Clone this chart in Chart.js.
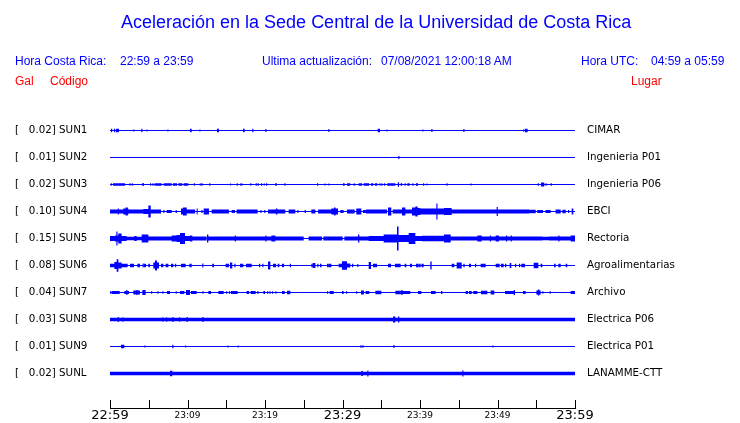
<!DOCTYPE html>
<html>
<head>
<meta charset="utf-8">
<script src="https://cdn.jsdelivr.net/npm/chart.js@4/dist/chart.umd.min.js"></script>
<style>
    body { margin: 0; background: #fff; }
    #wrap { position: relative; width: 740px; height: 423px; overflow: hidden; }
    #chartCanvas { position: absolute; left: 0; top: 0; }
    .txt { position: absolute; white-space: pre; font-family: 'Liberation Sans', Arial, sans-serif; line-height: 1; }
    .blue { color: #0000ff; }
    .red { color: #ff0000; }
    .title { font-size: 18px; }
    .sub { font-size: 12px; }
</style>
</head>
<body>
<div id="wrap">
    <canvas id="chartCanvas" width="740" height="423"></canvas>
    <div class="txt blue title" style="left:121px;top:13px">Aceleración en la Sede Central de la Universidad de Costa Rica</div>
    <div class="txt blue sub" style="left:15px;top:55px">Hora Costa Rica:</div>
    <div class="txt blue sub" style="left:120px;top:55px">22:59 a 23:59</div>
    <div class="txt blue sub" style="left:262px;top:55px">Ultima actualización:</div>
    <div class="txt blue sub" style="left:381px;top:55px">07/08/2021 12:00:18 AM</div>
    <div class="txt blue sub" style="left:581px;top:55px">Hora UTC:</div>
    <div class="txt blue sub" style="left:651px;top:55px">04:59 a 05:59</div>
    <div class="txt red sub" style="left:15px;top:75px">Gal</div>
    <div class="txt red sub" style="left:50px;top:75px">Código</div>
    <div class="txt red sub" style="left:631px;top:75px">Lugar</div>
</div>
<script>
// Stations (top to bottom)
const CODES = ['SUN1', 'SUN2', 'SUN3', 'SUN4', 'SUN5', 'SUN6', 'SUN7', 'SUN8', 'SUN9', 'SUNL'];
const GAL = ['0.02', '0.01', '0.02', '0.10', '0.15', '0.08', '0.04', '0.03', '0.01', '0.02'];
const PLACES = ['CIMAR', 'Ingenieria P01', 'Ingenieria P06', 'EBCI', 'Rectoria',
    'Agroalimentarias', 'Archivo', 'Electrica P06', 'Electrica P01', 'LANAMME-CTT'];

// Time axis: minutes after 22:59, labels every 10 minutes
const TICK_LABELS = ['22:59', '23:09', '23:19', '23:29', '23:39', '23:49', '23:59'];
const BIG_TICKS = [0, 30, 60];

// Background noise level of each trace (0 = quiet line)
const BASE = [0, 0, 0, 0, 0, 0, 0, 1.7, 0, 1.7];

// Bursts per trace: [startMin, endMin, amplitude] or [min, amplitude] for a single spike
const SUN1 = [[0.13, 1.7], [0.52, 1.7], [0.77, 1.16, 1.7], [3.0, 1], [4.04, 1.7], [4.69, 1], [7.4, 1],
    [10.32, 10.54, 1.7], [11.53, 1], [13.8, 14.06, 1.7], [17.16, 17.38, 1.7], [18.36, 1.7], [20.04, 1.5],
    [28.17, 1.5], [34.54, 34.84, 1.7], [35.66, 1], [40.3, 1], [41.46, 1.5], [45.59, 1.5],
    [53.33, 53.46, 1.2], [53.55, 53.89, 1.7]];
const SUN2 = [[37.2, 1.5]];
const SUN3 = [[0.09, 1.3], [0.39, 1.94, 1.3], [2.5, 1.3], [2.8, 1.3], [4.13, 4.39, 1.3], [5.16, 1.3],
    [5.46, 1.3], [5.76, 6.67, 1.3], [6.92, 7.96, 1.3], [8.13, 8.65, 1.3], [8.82, 9.33, 1.3],
    [9.5, 10.11, 1.3], [10.8, 1.3], [11.57, 12.0, 1], [12.8, 1.3], [15.48, 1], [16.34, 1.3],
    [16.77, 17.12, 1], [18.1, 1.3], [18.8, 1.3], [19.05, 1.3], [19.48, 1.3], [19.83, 1], [20.13, 1.3],
    [21.33, 21.55, 1.3], [22.5, 1.3], [26.71, 1.3], [27.66, 1], [28.17, 1], [30.06, 30.28, 1.3],
    [30.58, 31.01, 1.3], [31.44, 1.3], [32.09, 32.52, 1.3], [32.73, 33.46, 1.3], [33.68, 33.98, 1.3],
    [34.19, 34.49, 1.3], [34.75, 1.3], [35.01, 1.3], [35.35, 1.3], [35.78, 36.82, 1.3],
    [37.13, 37.3, 2.2], [37.5, 37.72, 1.3], [38.02, 1.3], [38.37, 38.67, 1.3], [39.01, 1.3],
    [39.48, 39.74, 1.3], [40.39, 1.3], [40.82, 1], [43.4, 1.3], [46.5, 1], [55.2, 1.3],
    [55.61, 56.04, 2], [56.2, 1.3], [56.86, 1.3]];
const SUN4 = [[0, 1.0, 2], [1.0, 1.15, 3], [1.15, 1.72, 2], [1.72, 2.0, 3], [2.0, 2.3, 4], [2.3, 2.37, 3],
    [2.37, 4.3, 2], [4.3, 4.95, 2.5], [4.95, 5.25, 6], [5.25, 6.58, 2], [6.88, 1.5], [7.31, 7.96, 1.5],
    [8.47, 1.5], [9.16, 9.42, 3], [9.42, 9.9, 4], [9.9, 10.97, 2], [11.18, 11.31, 3], [11.8, 1.5],
    [12.09, 12.77, 3], [13.12, 15.35, 2], [15.7, 16.13, 1.5], [16.34, 19.05, 2], [19.4, 1.5], [19.9, 1.5],
    [20.39, 21.4, 2], [21.4, 21.6, 3], [21.6, 22.62, 2], [23.05, 23.91, 2], [24.17, 1.5], [25.12, 1.5],
    [25.98, 26.5, 2], [26.84, 28.56, 2], [28.56, 28.9, 3], [28.9, 29.1, 4], [29.1, 29.42, 3],
    [29.72, 30.15, 1.5], [30.58, 31.57, 2], [31.78, 32.43, 3], [32.65, 33.03, 1.5], [33.03, 35.74, 2],
    [35.87, 36.3, 4], [36.47, 37.68, 2], [37.68, 38.11, 4], [38.11, 38.97, 2], [38.97, 39.4, 4],
    [39.4, 39.7, 5], [39.7, 40.04, 3.5], [40.04, 42.11, 3], [42.11, 42.26, 8], [42.26, 43.1, 3],
    [43.1, 44.09, 3.5], [44.09, 49.89, 2], [49.89, 50.04, 4.5], [50.04, 54.06, 2], [54.06, 54.93, 1.7],
    [55.14, 55.87, 1.5], [56.2, 56.86, 1.5], [57.5, 58.15, 2], [58.37, 58.8, 1.7], [59.1, 1.5],
    [59.57, 59.78, 3]];
const SUN5 = [[0, 0.65, 2.5], [0.65, 0.82, 3], [0.82, 0.97, 7], [0.97, 1.07, 3], [1.07, 1.5, 5],
    [1.5, 2.15, 2.5], [2.15, 3.14, 1.7], [3.14, 3.44, 2.5], [3.44, 4.09, 1.7], [4.09, 4.95, 4],
    [4.95, 7.96, 2], [7.96, 8.6, 3], [8.6, 9.03, 3.5], [9.03, 9.68, 5.5], [9.68, 10.32, 2.5],
    [10.32, 10.62, 3], [10.62, 12.47, 2], [12.52, 12.69, 4], [12.69, 16.1, 2], [16.1, 16.25, 3],
    [16.25, 20.04, 2], [20.04, 20.2, 3], [20.2, 20.82, 2], [20.82, 21.33, 3], [21.33, 24.99, 2],
    [25.63, 27.36, 2], [27.53, 30.02, 2], [30.24, 32.0, 2], [32.0, 32.17, 4], [32.17, 33.38, 2],
    [33.38, 35.31, 2.5], [35.31, 37.03, 4], [37.03, 37.23, 12], [37.23, 38.54, 3.5], [38.54, 39.4, 5.5],
    [39.4, 40.26, 2.5], [40.26, 43.1, 2.7], [43.1, 43.96, 4], [43.96, 47.4, 2], [47.4, 47.55, 3],
    [47.55, 47.96, 3], [47.96, 49.0, 2], [49.0, 49.15, 3], [49.15, 49.76, 2], [49.76, 50.19, 3],
    [50.19, 51.1, 2], [51.1, 51.25, 3], [51.25, 51.7, 2], [51.7, 51.85, 3], [51.85, 55.78, 2],
    [55.78, 56.64, 1.7], [56.64, 57.85, 2], [57.85, 58.0, 3], [58.0, 59.44, 2], [59.44, 60, 3]];
const SUN6 = [[0, 0.56, 1.7], [0.56, 0.86, 3.5], [0.86, 1.08, 6.3], [1.08, 1.5, 3], [1.5, 2.28, 1.7],
    [2.58, 3.1, 1.7], [3.53, 3.87, 1.7], [4.2, 2], [4.39, 4.65, 1.7], [4.95, 5.16, 1.7], [5.59, 5.81, 3],
    [5.81, 6.06, 5], [6.06, 6.32, 3], [6.58, 6.88, 1.7], [7.18, 7.53, 1.7], [7.87, 8.17, 1.7], [8.39, 1.7],
    [9.16, 9.76, 1.7], [10.24, 10.54, 1.7], [11.9, 2], [13.2, 13.42, 1.7], [14.92, 15.35, 1.7],
    [15.48, 15.78, 3], [16.04, 1.7], [16.77, 17.2, 1.7], [17.55, 18.28, 1.7], [19.23, 19.38, 1.7],
    [19.65, 1.7], [20.39, 20.69, 4], [21.03, 21.42, 1.7], [21.63, 21.85, 1.7], [22.19, 22.45, 1.7],
    [23.2, 1.7], [25.98, 1.7], [26.15, 26.5, 2.5], [26.75, 1.7], [27.1, 27.3, 1.7], [28.0, 1.7],
    [28.17, 28.56, 1.7], [29.5, 29.93, 1.7], [29.93, 30.58, 4.3], [30.58, 31.01, 2], [31.23, 1.7],
    [31.9, 1.5], [33.38, 33.68, 3.5], [33.93, 34.45, 1.7], [35.87, 36.26, 1.7], [36.77, 37.5, 1.7],
    [38.02, 38.24, 1.7], [38.71, 38.97, 1.7], [39.48, 39.83, 1.7], [39.87, 40.08, 1.7], [40.2, 40.47, 1.7],
    [41.33, 41.5, 4], [44.09, 44.43, 1.7], [44.73, 45.38, 3], [45.6, 45.76, 1.7], [46.32, 46.58, 1.7],
    [47.1, 1.7], [47.83, 48.47, 1.7], [49.76, 50.28, 1.7], [50.45, 50.8, 1.7], [50.97, 51.14, 1.7],
    [51.57, 51.78, 2.5], [52.26, 1.7], [52.77, 1.7], [53.07, 53.55, 1.7], [54.67, 55.27, 2.7],
    [55.57, 55.78, 1.7], [57.29, 57.5, 1.7], [57.85, 58.15, 1.7], [58.8, 59.0, 1.7]];
const SUN7 = [[0.0, 1.3], [0.22, 1.25, 1.5], [1.85, 2.1, 1.5], [2.1, 2.25, 2.5], [2.25, 2.45, 1.5],
    [3.01, 3.4, 2], [3.4, 3.55, 2.5], [3.55, 3.87, 2], [4.17, 4.6, 2.5], [5.3, 1.3], [6.11, 1.3],
    [6.75, 1.3], [7.35, 7.74, 1.5], [8.47, 1.3], [9.03, 9.59, 1.5], [9.81, 10.32, 2.5], [10.45, 11.18, 1.5],
    [11.92, 1.3], [12.69, 13.03, 1.5], [13.98, 14.67, 1.5], [14.97, 1.3], [15.35, 1.3], [15.61, 16.47, 1.5],
    [17.63, 17.94, 1.5], [18.15, 18.8, 1.5], [19.01, 1.5], [19.8, 20.0, 1.5], [20.26, 1.3], [20.56, 1.3],
    [20.9, 1.3], [21.33, 1.3], [22.19, 22.54, 1.5], [22.84, 23.27, 1.7], [28.0, 1.3], [28.34, 28.86, 1.5],
    [29.93, 30.15, 1.5], [30.45, 1.3], [31.74, 1.3], [32.39, 32.77, 2], [32.99, 33.46, 1.5],
    [34.24, 35.01, 1.7], [36.82, 37.6, 1.7], [37.6, 37.75, 2.5], [37.75, 38.75, 1.5], [39.74, 40.17, 1.5],
    [41.42, 42.02, 1.5], [42.71, 42.88, 1.5], [45.89, 46.19, 1.5], [46.32, 46.67, 1.5], [46.88, 47.4, 1.5],
    [47.87, 48.69, 1.7], [49.12, 49.59, 2], [50.97, 52.1, 1.5], [52.1, 52.26, 2.5], [53.29, 53.63, 1.5],
    [55.01, 55.2, 2], [55.2, 55.4, 3], [55.4, 55.57, 2], [55.78, 1.3], [56.73, 1.3], [59.44, 60, 1.5]];
const SUN8 = [[0.99, 2.5], [1.59, 2.2], [6.75, 2.2], [7.23, 2.2], [8.04, 2.5], [8.9, 2.2], [9.89, 2.5],
    [11.91, 2.5], [36.52, 36.82, 3], [37.16, 37.33, 3]];
const SUN9 = [[1.42, 1.85, 1.7], [4.43, 1], [8.04, 1.7], [9.68, 1], [15.14, 1], [16.47, 1], [32.3, 1.2],
    [32.56, 1.2], [36.56, 1.5], [49.33, 1]];
const SUNL = [[7.74, 8.04, 2.7], [32.43, 32.64, 2.5], [33.2, 3], [45.46, 3]];

const TRACES = [SUN1, SUN2, SUN3, SUN4, SUN5, SUN6, SUN7, SUN8, SUN9, SUNL];

const BLUE = '#0000ff';
const SPIKE_W = 0.15;     // width of a single spike, minutes
const AMP_UNIT = 1 / 27;  // amplitude unit relative to trace spacing
const Y_MIN = -0.5;
const Y_MAX = 10.278;

/**
 * Turn a list of bursts into a stepped envelope [minute, amplitude]
 */
function envelope(bursts, base) {
    const pts = [[0, base]];
    let last = 0;
    bursts.map(b => b.length === 2 ? [b[0], b[0] + SPIKE_W, b[1]] : b)
        .sort((a, b) => a[0] - b[0])
        .forEach(([s, e, a]) => {
            s = Math.max(s, last);
            if (e <= s) return;
            pts.push([s, Math.max(a, base)], [e, base]);
            last = e;
        });
    pts.push([60, base]);
    return pts;
}

const datasets = [];
TRACES.forEach((bursts, i) => {
    const env = envelope(bursts, BASE[i]);
    datasets.push({
        data: env.map(([x, a]) => ({ x, y: i - a * AMP_UNIT })),
        stepped: true, borderColor: 'rgba(0,0,0,0)', borderWidth: 0, fill: false
    });
    datasets.push({
        data: env.map(([x, a]) => ({ x, y: i + a * AMP_UNIT })),
        stepped: true, borderColor: 'rgba(0,0,0,0)', borderWidth: 0,
        fill: '-1', backgroundColor: BLUE
    });
    datasets.push({
        data: [{ x: 0, y: i }, { x: 60, y: i }],
        borderColor: BLUE, borderWidth: 1, fill: false
    });
});

// Small tick marks rising from the time axis
const tickMarks = {
    id: 'tickMarks',
    afterDraw(chart) {
        const scale = chart.scales.x;
        const ctx = chart.ctx;
        const bottom = chart.chartArea.bottom;
        ctx.save();
        ctx.strokeStyle = '#000';
        ctx.lineWidth = 1;
        scale.ticks.forEach(t => {
            const px = Math.round(scale.getPixelForValue(t.value)) + 0.5;
            ctx.beginPath();
            ctx.moveTo(px, bottom - 8);
            ctx.lineTo(px, bottom + 0.5);
            ctx.stroke();
        });
        ctx.restore();
    }
};

const stationTicks = s => { s.ticks = CODES.map((c, i) => ({ value: i })); };

new Chart(document.getElementById('chartCanvas').getContext('2d'), {
    type: 'line',
    data: { datasets },
    options: {
        responsive: false,
        animation: false,
        events: [],
        devicePixelRatio: 1,
        layout: { padding: { top: 117, left: 15, right: 0, bottom: 0 } },
        elements: { point: { radius: 0 }, line: { tension: 0 } },
        plugins: { legend: { display: false }, tooltip: { enabled: false } },
        scales: {
            x: {
                type: 'linear', min: 0, max: 60,
                grid: { display: false, drawTicks: false },
                border: { display: true, color: '#000', width: 1 },
                afterFit: s => { s.height = 15; },
                ticks: {
                    stepSize: 5, autoSkip: false, maxRotation: 0, padding: 0, color: '#000',
                    callback: v => v % 10 === 0 ? TICK_LABELS[v / 10] : '',
                    font: ctx => BIG_TICKS.includes(ctx.tick && ctx.tick.value)
                        ? { family: 'DejaVu Sans', size: 13, lineHeight: 1.2 }
                        : { family: 'DejaVu Sans', size: 9, lineHeight: 1.733 }
                }
            },
            y: {
                type: 'linear', position: 'left', reverse: true, min: Y_MIN, max: Y_MAX,
                grid: { display: false, drawTicks: false },
                border: { display: false },
                afterBuildTicks: stationTicks,
                afterFit: s => { s.width = 95; },
                ticks: {
                    crossAlign: 'far', padding: 0, color: '#000',
                    font: { family: 'DejaVu Sans', size: 10.3 },
                    callback: (v, idx) => '[   ' + GAL[idx] + '] ' + CODES[idx]
                }
            },
            y2: {
                type: 'linear', position: 'right', reverse: true, min: Y_MIN, max: Y_MAX,
                grid: { display: false, drawTicks: true, tickLength: 10 },
                border: { display: false },
                afterBuildTicks: stationTicks,
                afterFit: s => { s.width = 165; },
                ticks: {
                    padding: 2, color: '#000',
                    font: { family: 'DejaVu Sans', size: 10.3 },
                    callback: (v, idx) => PLACES[idx]
                }
            }
        }
    },
    plugins: [tickMarks]
});
</script>
</body>
</html>
